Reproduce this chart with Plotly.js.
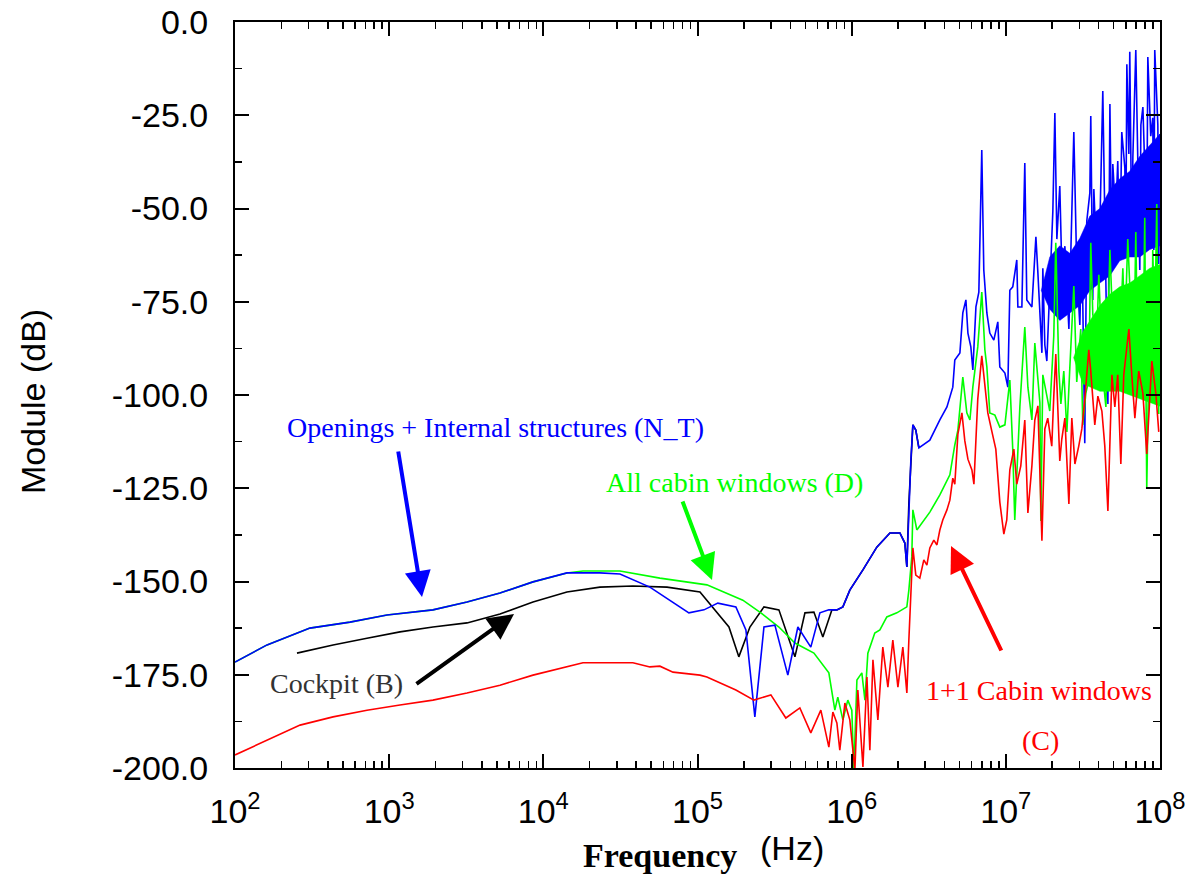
<!DOCTYPE html>
<html>
<head>
<meta charset="utf-8">
<script src="https://cdn.plot.ly/plotly-3.0.1.min.js"></script>
<style>
  html, body { margin: 0; padding: 0; background: #fff; }
  #chart { width: 1185px; height: 875px; }
</style>
</head>
<body>
<div id="chart"></div>
<script>
// ---- Data: [log10(frequency in Hz), module in dB] ----
const blueCurve = [
[2.000,-171.6],[2.208,-167.0],[2.486,-162.5],[2.746,-160.9],[2.986,-159.0],[3.284,-157.6],[3.505,-155.5],[3.719,-153.1],[3.933,-150.1],[4.153,-147.7],[4.367,-147.7],[4.497,-148.0],[4.691,-151.5],[4.821,-155.0],[4.944,-158.4],[5.042,-157.6],[5.132,-155.8],[5.249,-156.8],[5.314,-163.0],[5.372,-186.3],[5.431,-162.2],[5.502,-161.7],[5.586,-175.1],[5.651,-162.2],[5.735,-167.6],[5.794,-158.4],[5.852,-157.6],[5.904,-157.6],[5.943,-156.8],[5.988,-152.3],[6.073,-146.9],[6.163,-140.8],[6.248,-137.0],[6.313,-137.0],[6.345,-139.7],[6.358,-146.1],[6.371,-129.0],[6.384,-117.4],[6.397,-108.0],[6.416,-109.4],[6.436,-114.2],
[6.507,-112.1],[6.572,-106.7],[6.618,-103.2],[6.656,-97.9],[6.669,-90.6],[6.702,-88.7],[6.721,-78.0],[6.741,-74.5],[6.754,-83.4],[6.773,-87.1],[6.786,-93.3],[6.806,-76.4],[6.825,-72.4],[6.844,-34.3],[6.857,-66.5],[6.877,-78.0],[6.896,-83.4],[6.922,-85.3],[6.948,-80.4],[6.961,-92.5],[6.994,-94.1],[7.013,-97.9],[7.026,-71.9],[7.045,-71.0],[7.071,-63.8],[7.078,-76.4],[7.104,-76.4],[7.123,-37.8],[7.136,-74.5],[7.169,-76.4],[7.175,-72.7],[7.195,-57.6],[7.208,-67.3],[7.234,-88.7],[7.240,-66.0],[7.253,-86.6],[7.266,-90.9],[7.285,-68.9],[7.305,-50.7],[7.318,-24.4],[7.331,-58.2],[7.350,-44.0],[7.363,-66.0],[7.383,-60.1],[7.409,-82.3],[7.422,-61.1],[7.441,-29.5],[7.460,-66.0],[7.480,-81.2],[7.493,-57.4],[7.512,-112.9],[7.525,-53.4],[7.545,-45.8],[7.551,-25.2],[7.564,-74.5],[7.571,-44.8],[7.590,-64.1],[7.610,-54.4],[7.629,-18.5],[7.642,-52.5],[7.662,-102.4],[7.675,-22.0],[7.688,-66.5],[7.694,-38.1],[7.713,-52.5],[7.726,-37.3],[7.739,-63.8],[7.752,-29.5],[7.772,-39.1],[7.778,-61.1],[7.785,-11.3],[7.798,-35.4],[7.804,-8.0],[7.817,-59.8],[7.824,-36.2],[7.843,-7.5],[7.856,-37.3],[7.869,-66.5],[7.876,-27.6],[7.889,-22.8],[7.901,-39.1],[7.914,-58.4],[7.921,-9.4],[7.940,-30.6],[7.953,-25.7],[7.960,-61.1],[7.966,-7.5],[7.986,-27.6],[7.992,-64.9],[8.000,-30.0]
];

const greenCurve = [
[2.000,-171.6],[2.208,-167.0],[2.486,-162.5],[2.746,-160.9],[2.986,-159.0],[3.284,-157.6],[3.505,-155.5],[3.719,-153.1],[3.933,-150.1],[4.153,-147.7],[4.257,-147.2],[4.497,-147.2],[4.756,-149.1],[5.061,-150.9],[5.294,-155.0],[5.411,-158.4],[5.528,-162.2],[5.632,-166.5],[5.755,-169.2],[5.852,-174.5],[5.891,-184.5],[5.910,-181.0],[5.943,-187.1],[5.975,-181.8],[6.001,-184.5],[6.014,-201.0],[6.034,-176.4],[6.066,-174.5],[6.086,-181.8],[6.105,-169.2],[6.150,-163.8],[6.183,-163.0],[6.228,-159.5],[6.293,-158.4],[6.358,-156.8],[6.371,-152.3],[6.390,-143.4],[6.397,-130.8],[6.423,-136.2],[6.507,-131.4],[6.572,-126.8],[6.637,-121.4],[6.669,-113.4],[6.689,-109.4],[6.721,-95.2],[6.747,-104.8],[6.767,-106.7],[6.786,-97.9],[6.818,-87.1],[6.844,-72.4],[6.864,-87.9],[6.877,-92.5],[6.896,-104.8],[6.929,-105.4],[6.961,-108.6],[6.994,-108.0],[7.026,-96.0],[7.045,-114.7],[7.058,-133.5],[7.091,-103.2],[7.123,-81.8],[7.143,-97.9],[7.169,-106.7],[7.188,-86.1],[7.221,-102.1],[7.227,-133.8],[7.240,-94.6],[7.266,-100.3],[7.285,-104.3],[7.311,-84.2],[7.324,-59.2],[7.344,-93.6],[7.357,-102.4],[7.376,-93.6],[7.396,-109.9],[7.415,-92.8],[7.441,-70.8],[7.460,-96.5],[7.486,-82.3],[7.499,-108.0],[7.519,-99.5],[7.538,-96.0],[7.551,-59.2],[7.564,-78.3],[7.590,-85.0],[7.603,-67.8],[7.629,-94.6],[7.649,-103.2],[7.675,-61.1],[7.694,-81.2],[7.713,-75.6],[7.733,-93.6],[7.759,-66.0],[7.772,-83.1],[7.791,-58.2],[7.811,-77.5],[7.830,-91.7],[7.843,-56.3],[7.856,-93.3],[7.869,-74.5],[7.889,-94.6],[7.901,-52.5],[7.914,-125.2],[7.934,-75.6],[7.947,-96.0],[7.953,-61.1],[7.966,-82.6],[7.979,-48.8],[7.992,-105.1]
];

const blackCurve = [
[2.402,-169.2],[2.636,-167.0],[2.856,-165.2],[3.070,-163.5],[3.284,-162.2],[3.505,-161.1],[3.719,-158.7],[3.933,-155.5],[4.153,-152.8],[4.367,-151.5],[4.581,-151.2],[4.802,-151.5],[5.016,-152.8],[5.061,-155.0],[5.204,-162.2],[5.268,-170.2],[5.340,-162.2],[5.431,-156.8],[5.528,-157.6],[5.632,-170.2],[5.697,-158.4],[5.755,-158.2],[5.813,-164.9],[5.872,-157.6],[5.904,-157.6],[5.943,-156.8],[5.988,-152.3],[6.073,-146.9],[6.163,-140.8],[6.248,-137.0],[6.313,-137.0],[6.345,-139.7],[6.358,-146.1],[6.371,-129.0],[6.384,-117.4],[6.397,-108.0],[6.416,-109.4],[6.436,-114.2]
];

const redCurve = [
[2.000,-196.5],[2.208,-192.5],[2.422,-188.5],[2.636,-186.3],[2.856,-184.5],[3.070,-183.1],[3.284,-181.8],[3.505,-179.9],[3.719,-177.8],[3.933,-175.1],[4.153,-172.9],[4.257,-171.8],[4.581,-171.8],[4.691,-172.9],[4.756,-172.7],[4.841,-174.3],[5.016,-175.1],[5.061,-175.6],[5.249,-179.1],[5.366,-181.8],[5.476,-180.4],[5.573,-186.6],[5.664,-183.9],[5.735,-190.6],[5.800,-184.5],[5.852,-194.4],[5.878,-185.0],[5.904,-187.9],[5.923,-195.2],[5.956,-182.6],[5.988,-187.1],[6.021,-200.5],[6.040,-179.1],[6.073,-199.7],[6.099,-175.6],[6.118,-195.2],[6.138,-171.0],[6.170,-187.1],[6.202,-167.6],[6.235,-178.3],[6.267,-165.7],[6.300,-178.3],[6.332,-167.6],[6.358,-179.9],[6.371,-165.7],[6.384,-153.1],[6.397,-141.0],[6.416,-148.3],[6.442,-149.1],[6.468,-144.2],[6.488,-145.6],[6.507,-141.0],[6.533,-138.9],[6.553,-140.2],[6.572,-136.2],[6.591,-133.5],[6.618,-130.8],[6.637,-128.2],[6.656,-122.3],[6.669,-123.9],[6.689,-110.5],[6.715,-104.8],[6.734,-112.3],[6.754,-117.2],[6.780,-120.1],[6.793,-123.9],[6.818,-101.1],[6.844,-89.5],[6.857,-95.2],[6.883,-104.8],[6.909,-109.7],[6.935,-114.5],[6.961,-128.7],[6.987,-137.3],[7.006,-133.5],[7.026,-120.1],[7.052,-114.5],[7.071,-123.9],[7.097,-119.0],[7.123,-106.7],[7.143,-131.6],[7.169,-119.0],[7.188,-106.7],[7.208,-102.9],[7.234,-139.1],[7.253,-109.1],[7.272,-106.2],[7.298,-113.7],[7.311,-100.3],[7.324,-89.0],[7.350,-117.7],[7.363,-111.8],[7.383,-106.2],[7.409,-129.2],[7.428,-106.2],[7.448,-118.5],[7.473,-113.7],[7.493,-109.1],[7.512,-101.3],[7.538,-87.9],[7.551,-93.6],[7.577,-108.0],[7.597,-100.3],[7.623,-104.3],[7.642,-113.7],[7.662,-131.1],[7.688,-94.6],[7.707,-103.2],[7.726,-94.6],[7.746,-118.5],[7.765,-94.6],[7.798,-82.3],[7.817,-94.6],[7.837,-106.2],[7.862,-93.6],[7.889,-99.5],[7.914,-115.8],[7.947,-90.9],[7.973,-99.5],[7.992,-109.9]
];

// Core of the densely oscillating high-frequency bands (upper / lower edge)
const blueBandUpper = [[7.230,-72.0],[7.285,-63.0],[7.350,-60.0],[7.415,-62.0],[7.480,-58.0],[7.545,-52.0],[7.610,-50.0],[7.675,-45.0],[7.739,-42.0],[7.804,-40.0],[7.869,-36.0],[7.934,-33.0],[8.000,-30.0]];
const blueBandLower = [[7.230,-72.0],[7.285,-77.0],[7.350,-80.0],[7.415,-78.0],[7.480,-76.0],[7.545,-72.0],[7.610,-70.0],[7.675,-68.0],[7.739,-64.0],[7.804,-63.0],[7.869,-63.0],[7.934,-61.0],[8.000,-60.0]];
const greenBandUpper = [[7.440,-90.0],[7.500,-83.0],[7.610,-76.0],[7.675,-73.0],[7.739,-71.0],[7.804,-70.0],[7.869,-68.0],[7.934,-66.0],[8.000,-65.0]];
const greenBandLower = [[7.440,-90.0],[7.500,-97.0],[7.610,-99.0],[7.739,-99.0],[7.869,-101.0],[8.000,-103.0]];

// ---- Tick labels ----
const xTickVals = [1e2, 1e3, 1e4, 1e5, 1e6, 1e7, 1e8];
const xTickText = ['10<sup>2</sup>','10<sup>3</sup>','10<sup>4</sup>','10<sup>5</sup>','10<sup>6</sup>','10<sup>7</sup>','10<sup>8</sup>'];
const yTickVals = [-200, -175, -150, -125, -100, -75, -50, -25, 0];
const yTickText = ['-200.0','-175.0','-150.0','-125.0','-100.0','-75.0','-50.0','-25.0','0.0'];

// minor tick positions
const xMinor = [];
for (let d = 2; d < 8; d++) for (let k = 2; k <= 9; k++) xMinor.push(k * Math.pow(10, d));
const yMinor = [];
for (let v = -187.5; v < 0; v += 25) yMinor.push(v);

function line(curve, color) {
  return {
    type: 'scatter', mode: 'lines',
    x: curve.map(p => Math.pow(10, p[0])),
    y: curve.map(p => p[1]),
    line: { color: color, width: 1.6 },
    hoverinfo: 'skip'
  };
}
function band(upper, lower, color) {
  const poly = upper.concat(lower.slice().reverse());
  return {
    type: 'scatter', mode: 'lines', fill: 'toself', fillcolor: color,
    x: poly.map(p => Math.pow(10, p[0])),
    y: poly.map(p => p[1]),
    line: { color: color, width: 0.5 },
    hoverinfo: 'skip'
  };
}

const greenSplit = 6.423;
const traces = [
  line(blackCurve, '#000000'),
  line(greenCurve.filter(p => p[0] <= greenSplit), '#00ff00'),
  band(blueBandUpper, blueBandLower, '#0000ff'),
  line(blueCurve, '#0000ff'),
  band(greenBandUpper, greenBandLower, '#00ff00'),
  line(greenCurve.filter(p => p[0] >= greenSplit), '#00ff00'),
  line(redCurve, '#ff0000')
];

const serif = 'Liberation Serif, Times New Roman, serif';
const sans = 'Liberation Sans, Arial, Helvetica, sans-serif';

// helper: pixel position in the figure -> paper coords (plot area 235..1160 x 22..768)
function px(x) { return (x - 235) / 925; }
function py(y) { return (768 - y) / 746; }

const annotations = [
  { text: 'Openings + Internal structures (N_T)', x: px(285), y: py(428), xanchor: 'left', yanchor: 'middle', font: {family: serif, size: 28, color: '#0000ff'} },
  { text: 'All cabin windows (D)', x: px(604), y: py(482), xanchor: 'left', yanchor: 'middle', font: {family: serif, size: 28, color: '#00ff00'} },
  { text: 'Cockpit (B)', x: px(268), y: py(683), xanchor: 'left', yanchor: 'middle', font: {family: serif, size: 28, color: '#333333'} },
  { text: '1+1 Cabin windows', x: px(924), y: py(690), xanchor: 'left', yanchor: 'middle', font: {family: serif, size: 28, color: '#ff0000'} },
  { text: '(C)', x: px(1040), y: py(740), xanchor: 'center', yanchor: 'middle', font: {family: serif, size: 28, color: '#ff0000'} },
  // arrows
  { text: '', x: px(422), y: py(597), ax: -24, ay: -147, arrowhead: 2, arrowsize: 1.3, arrowwidth: 4, arrowcolor: '#0000ff', standoff: 0 },
  { text: '', x: px(712), y: py(580), ax: -30, ay: -80, arrowhead: 2, arrowsize: 1.3, arrowwidth: 4, arrowcolor: '#00ff00', standoff: 0 },
  { text: '', x: px(514), y: py(614), ax: -99, ay: 71, arrowhead: 2, arrowsize: 1.3, arrowwidth: 4, arrowcolor: '#000000', standoff: 0 },
  { text: '', x: px(951), y: py(546), ax: 51, ay: 106, arrowhead: 2, arrowsize: 1.3, arrowwidth: 4, arrowcolor: '#ff0000', standoff: 0 },
  // axis titles
  { text: 'Module (dB)', x: px(33), y: py(402), xanchor: 'center', yanchor: 'middle', textangle: -90, font: {family: sans, size: 34, color: '#000'} },
  { text: '<b>Frequency</b>', x: px(660), y: py(855), xanchor: 'center', yanchor: 'middle', font: {family: serif, size: 34, color: '#000'} },
  { text: '(Hz)', x: px(792), y: py(848), xanchor: 'center', yanchor: 'middle', font: {family: sans, size: 34, color: '#000'} }
].map(a => {
  const b = Object.assign({ xref: 'paper', yref: 'paper', showarrow: false }, a);
  if (a.ax !== undefined) { b.showarrow = true; b.axref = 'pixel'; b.ayref = 'pixel'; }
  return b;
});

const layout = {
  width: 1185, height: 875,
  margin: { l: 235, r: 25, t: 22, b: 107 },
  paper_bgcolor: '#fff', plot_bgcolor: '#fff',
  showlegend: false,
  font: { family: sans, color: '#000' },
  xaxis: {
    type: 'log', range: [2, 8],
    tickmode: 'array', tickvals: xTickVals, ticktext: xTickText,
    ticks: 'inside', ticklen: 14, tickwidth: 2, tickcolor: '#000',
    minor: { tickmode: 'array', tickvals: xMinor, ticks: 'inside', ticklen: 7, tickwidth: 1.5, tickcolor: '#000', showgrid: false },
    showline: true, linewidth: 2, linecolor: '#000', mirror: 'ticks',
    showgrid: false, zeroline: false,
    tickfont: { family: sans, size: 34, color: '#000' },
    ticklabelstandoff: 12,
    ticklabeloverflow: 'allow'
  },
  yaxis: {
    range: [-200, 0],
    tickmode: 'array', tickvals: yTickVals, ticktext: yTickText,
    ticks: 'inside', ticklen: 14, tickwidth: 2, tickcolor: '#000',
    minor: { tickmode: 'array', tickvals: yMinor, ticks: 'inside', ticklen: 7, tickwidth: 1.5, tickcolor: '#000', showgrid: false },
    showline: true, linewidth: 2, linecolor: '#000', mirror: 'ticks',
    showgrid: false, zeroline: false,
    tickfont: { family: sans, size: 34, color: '#000' },
    ticklabelstandoff: 18,
    ticklabeloverflow: 'allow'
  },
  annotations: annotations
};

Plotly.newPlot('chart', traces, layout, { staticPlot: true, displayModeBar: false });
</script>
</body>
</html>
